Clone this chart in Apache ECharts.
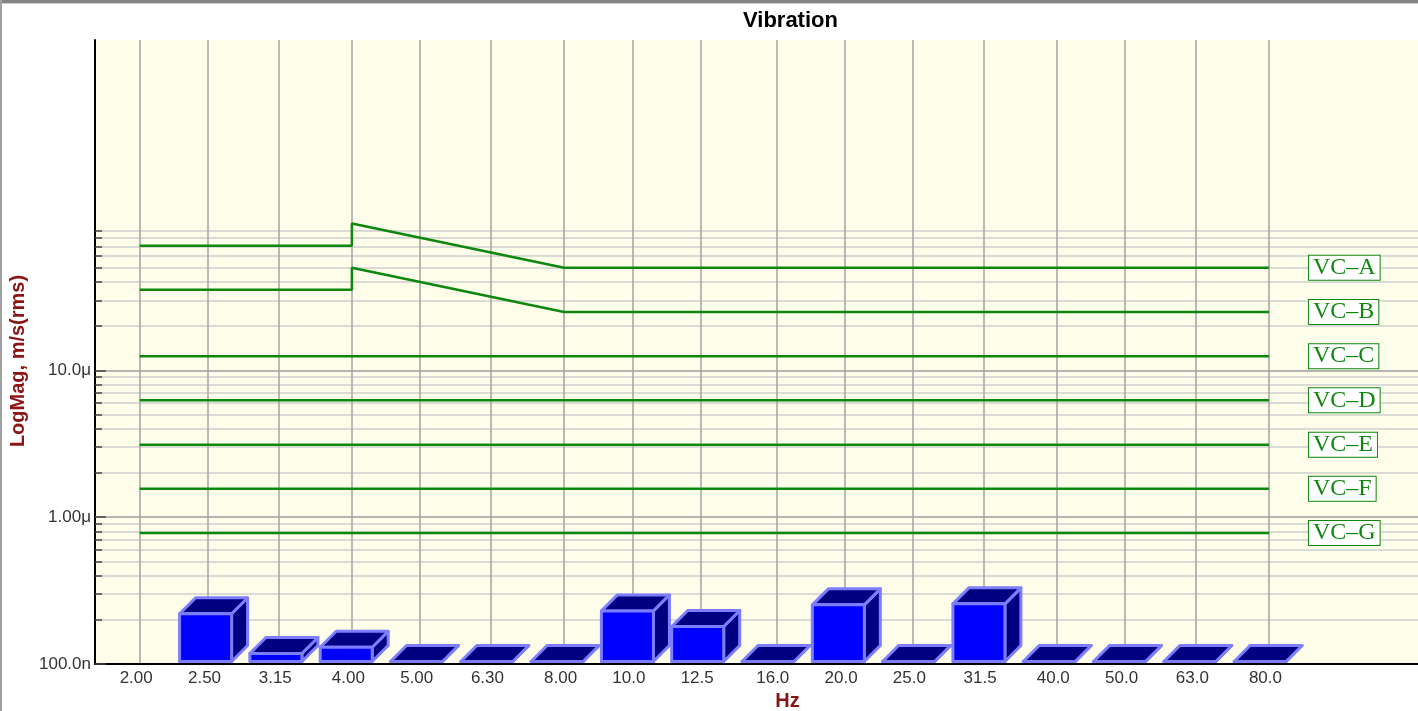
<!DOCTYPE html>
<html><head><meta charset="utf-8">
<script src="https://cdn.jsdelivr.net/npm/echarts@6/dist/echarts.min.js"></script>
<style>html,body{margin:0;padding:0;background:#fff}#c{width:1418px;height:711px}</style>
</head><body><div id="c"></div>
<script>
// ---- data ----
const categories = ['2.00','2.50','3.15','4.00','5.00','6.30','8.00','10.0','12.5','16.0','20.0','25.0','31.5','40.0','50.0','63.0','80.0'];
const frequencies = [2, 2.5, 3.15, 4, 5, 6.3, 8, 10, 12.5, 16, 20, 25, 31.5, 40, 50, 63, 80];
// measured 1/3-octave band vibration velocity (m/s rms); null = no bar
const measured = [null, 220e-9, 118e-9, 130e-9, 100e-9, 100e-9, 100e-9, 230e-9, 180e-9, 100e-9, 253e-9, 100e-9, 257e-9, 100e-9, 100e-9, 100e-9, 100e-9];
// VC criterion curves: [frequency Hz, velocity m/s]
const vcNames = ['VC–A','VC–B','VC–C','VC–D','VC–E','VC–F','VC–G'];
const vcA = [[2, 70.7e-6], [4, 70.7e-6], [4, 100e-6], [5, 80e-6], [6.3, 63.5e-6], [8, 50e-6], [80, 50e-6]];
const vcB = [[2, 35.4e-6], [4, 35.4e-6], [4, 50e-6], [5, 40e-6], [6.3, 31.7e-6], [8, 25e-6], [80, 25e-6]];
const vcC = [[2, 12.5e-6], [80, 12.5e-6]];
const vcD = [[2, 6.25e-6], [80, 6.25e-6]];
const vcE = [[2, 3.12e-6], [80, 3.12e-6]];
const vcF = [[2, 1.56e-6], [80, 1.56e-6]];
const vcG = [[2, 0.78e-6], [80, 0.78e-6]];
// y tick labels
const yMajorValues = [1e-7, 1e-6, 1e-5];
const yMajorLabels = ['100.0n', '1.00μ', '10.0μ'];
const yMinorValues = [2e-7,3e-7,4e-7,5e-7,6e-7,7e-7,8e-7,9e-7,
                      2e-6,3e-6,4e-6,5e-6,6e-6,7e-6,8e-6,9e-6,
                      2e-5,3e-5,4e-5,5e-5,6e-5,7e-5,8e-5,9e-5];

// ---- axis extents ----
const yMin = 1e-7, yMax = 1.781e-3;
const xMin = 1.7283, xMax = 159.4;
const idxMin = -0.687, idxMax = 19.014;

function nearestIndex(list, v) {
  let best = -1, bd = Infinity;
  list.forEach((x, i) => { const d = Math.abs(Math.log(x / v)); if (d < bd) { bd = d; best = i; } });
  return bd < 0.01 ? best : -1;
}

const GREEN = '#0e870e';
const lineSets = [vcA, vcB, vcC, vcD, vcE, vcF, vcG];
const lineSeries = lineSets.map((d, i) => ({
  type: 'line', name: vcNames[i], xAxisIndex: 0, yAxisIndex: 0,
  data: d, symbol: 'none', showSymbol: false, silent: true, z: 3,
  lineStyle: { color: GREEN, width: 2.5 },
  endLabel: {
    show: true, formatter: vcNames[i], distance: 40,
    fontFamily: 'Liberation Serif', fontSize: 24, color: GREEN, lineHeight: 23,
    backgroundColor: '#ffffff', borderColor: GREEN, borderWidth: 1, padding: [1, 4, 0, 4]
  }
}));

const barData = measured.map((v, i) => v == null ? null : [i, v]).filter(Boolean);

function renderBar(params, api) {
  const idx = api.value(0), val = api.value(1);
  const top = api.coord([idx, val]);
  const base = api.coord([idx, yMin]);
  const c = top[0];
  const W = 52, D = 16;
  const x0 = c - 34, x1 = x0 + W;
  const yb = base[1] - 2.5;
  const yt = Math.min(top[1], yb);
  const st = { stroke: '#7d7dff', lineWidth: 3, lineJoin: 'round' };
  return { type: 'group', children: [
    { type: 'polygon', shape: { points: [[x1, yb], [x1 + D, yb - D], [x1 + D, yt - D], [x1, yt]] }, style: Object.assign({ fill: '#000080' }, st) },
    { type: 'polygon', shape: { points: [[x0, yt], [x1, yt], [x1 + D, yt - D], [x0 + D, yt - D]] }, style: Object.assign({ fill: '#000080' }, st) },
    { type: 'rect', shape: { x: x0, y: yt, width: W, height: yb - yt }, style: Object.assign({ fill: '#0000ff' }, st) }
  ]};
}

const nameStyle = { color: '#8b1515', fontWeight: 'bold', fontSize: 20, fontFamily: 'Liberation Sans' };
const labelStyle = { fontSize: 17, color: '#333', fontFamily: 'Liberation Sans' };

const option = {
  animation: false,
  backgroundColor: '#ffffff',
  title: { text: 'Vibration', left: 738, top: 5,
    textStyle: { fontSize: 22, fontWeight: 'bold', color: '#000', fontFamily: 'Liberation Sans' } },
  grid: { left: 95, top: 40, right: -62, bottom: 47, outerBoundsMode: 'none', containLabel: false,
          show: true, backgroundColor: '#fdfde9', borderWidth: 0 },
  xAxis: [
    { type: 'log', logBase: 10, min: xMin, max: xMax,
      name: 'Hz', nameLocation: 'middle', nameGap: 26, nameTextStyle: nameStyle,
      axisLine: { show: true, onZero: false, lineStyle: { color: '#000', width: 2 } },
      axisTick: { show: false, customValues: frequencies },
      axisLabel: Object.assign({ customValues: frequencies, margin: 6, padding: [0, 7, 0, 0],
        formatter: v => { const k = nearestIndex(frequencies, v); return k < 0 ? '' : categories[k]; } }, labelStyle),
      splitLine: { show: true, customValues: frequencies, lineStyle: { color: '#a3a3a3', width: 1.5 } },
      minorTick: { show: false }, minorSplitLine: { show: false } },
    { type: 'value', min: idxMin, max: idxMax, show: false,
      axisLine: { show: false, onZero: false }, axisTick: { show: false }, axisLabel: { show: false }, splitLine: { show: false } }
  ],
  yAxis: [
    { type: 'log', logBase: 10, min: yMin, max: yMax, position: 'left',
      name: 'LogMag, m/s(rms)', nameLocation: 'middle', nameGap: 64,
      nameTextStyle: Object.assign({ padding: [0, 18, 0, 0] }, nameStyle),
      axisLine: { show: true, onZero: false, lineStyle: { color: '#000', width: 2 } },
      axisTick: { show: true, inside: true, length: 7, customValues: yMinorValues, lineStyle: { color: '#444', width: 1.5 } },
      axisLabel: Object.assign({ customValues: yMajorValues, margin: 4,
        formatter: v => { const k = nearestIndex(yMajorValues, v); return k < 0 ? '' : yMajorLabels[k]; } }, labelStyle),
      splitLine: { show: true, customValues: yMinorValues, lineStyle: { color: '#cfcfcf', width: 1.5 } },
      minorTick: { show: false }, minorSplitLine: { show: false } },
    { type: 'log', logBase: 10, min: yMin, max: yMax, position: 'left', offset: 0,
      axisLine: { show: false, onZero: false },
      axisTick: { show: true, inside: true, length: 11, customValues: yMajorValues, lineStyle: { color: '#444', width: 1.5 } },
      axisLabel: { show: false, customValues: yMajorValues },
      splitLine: { show: true, customValues: yMajorValues, lineStyle: { color: '#9c9c9c', width: 1.5 } } }
  ],
  graphic: [
    { type: 'rect', left: 0, top: 0, shape: { width: 1418, height: 3 }, style: { fill: '#858585' }, z: 100 },
    { type: 'rect', left: 0, top: 3, shape: { width: 1418, height: 1 }, style: { fill: '#d0d0d0' }, z: 100 },
    { type: 'rect', left: 0, top: 0, shape: { width: 2, height: 711 }, style: { fill: '#a0a0a0' }, z: 100 }
  ],
  series: lineSeries.concat([{
    type: 'custom', name: 'Measured', xAxisIndex: 1, yAxisIndex: 0,
    data: barData, renderItem: renderBar, z: 4, silent: true, clip: false
  }])
};

const chart = echarts.init(document.getElementById('c'), null, { renderer: 'canvas' });
chart.setOption(option);
</script>
</body></html>
